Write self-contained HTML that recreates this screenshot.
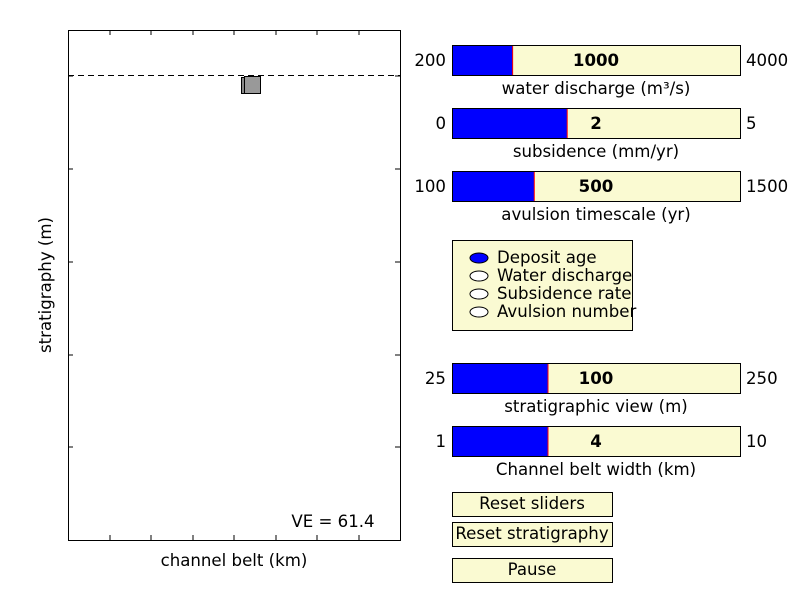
<!DOCTYPE html>
<html><head><meta charset="utf-8"><style>
body{margin:0;background:#fff;}
svg{display:block;font-family:"DejaVu Sans","Liberation Sans",sans-serif;}
</style></head><body>
<svg id="s" width="800" height="600" viewBox="0 0 800 600">
<rect x="0" y="0" width="800" height="600" fill="#fff"/>
<g>
<rect x="68.5" y="30.5" width="332" height="510" fill="#fff" stroke="#000"/>
<g id="ticks" stroke="#000"></g>
<line x1="68" y1="75.5" x2="400" y2="75.5" stroke="#000" stroke-dasharray="6,4"/>
<rect x="241.5" y="77.5" width="16" height="16" fill="#888" stroke="#000"/>
<rect x="244.5" y="76.5" width="16" height="17" fill="#999" stroke="#000"/>
<text x="333" y="527" font-size="16.6" text-anchor="middle">VE = 61.4</text>
<text x="234" y="566" font-size="16.6" text-anchor="middle">channel belt (km)</text>
<text transform="translate(51,285) rotate(-90)" font-size="16.6" text-anchor="middle">stratigraphy (m)</text>
</g>
<g id="sliders"></g>
<g font-size="16.6">
<rect x="452.5" y="240.5" width="180" height="90" fill="#fafad2" stroke="#000"/>
<ellipse cx="479" cy="258" rx="9" ry="5" fill="#00f" stroke="#000"/>
<ellipse cx="479" cy="276" rx="9" ry="5" fill="#fff" stroke="#000"/>
<ellipse cx="479" cy="294" rx="9" ry="5" fill="#fff" stroke="#000"/>
<ellipse cx="479" cy="312" rx="9" ry="5" fill="#fff" stroke="#000"/>
<text x="497" y="263">Deposit age</text>
<text x="497" y="281">Water discharge</text>
<text x="497" y="299">Subsidence rate</text>
<text x="497" y="317">Avulsion number</text>
</g>
<g><rect x="452.5" y="492.5" width="160" height="24" fill="#fafad2" stroke="#000"/><text x="532" y="509" font-size="16.6" text-anchor="middle">Reset sliders</text></g>
<g><rect x="452.5" y="522.5" width="160" height="24" fill="#fafad2" stroke="#000"/><text x="532" y="539" font-size="16.6" text-anchor="middle">Reset stratigraphy</text></g>
<g><rect x="452.5" y="558.5" width="160" height="24" fill="#fafad2" stroke="#000"/><text x="532" y="575" font-size="16.6" text-anchor="middle">Pause</text></g>
</svg>
<script>
const sliderNames=["water discharge (m³/s)","subsidence (mm/yr)","avulsion timescale (yr)","stratigraphic view (m)","Channel belt width (km)"];
const sliderMins=[200,0,100,25,1];
const sliderMaxs=[4000,5,1500,250,10];
const sliderValues=[1000,2,500,100,4];
const sliderTops=[45,108,171,363,426];
const NS="http://www.w3.org/2000/svg";
function mk(t,a,p){const e=document.createElementNS(NS,t);for(const k in a)e.setAttribute(k,a[k]);p.appendChild(e);return e;}
const tk=document.getElementById('ticks');
[110,151,193,234,276,317,359].forEach(x=>{mk('line',{x1:x,y1:30,x2:x,y2:35},tk);mk('line',{x1:x,y1:540,x2:x,y2:535},tk);});
[76,169,262,355,447].forEach(y=>{mk('line',{x1:68,y1:y,x2:73,y2:y},tk);mk('line',{x1:400,y1:y,x2:395,y2:y},tk);});
const sg=document.getElementById('sliders');
const X0=452,W=288;
sliderNames.forEach((n,i)=>{
 const g=mk('g',{},sg);
 
 
 const y=sliderTops[i];
 const fx=X0+W*(sliderValues[i]-sliderMins[i])/(sliderMaxs[i]-sliderMins[i]);
 mk('rect',{x:X0+.5,y:y+.5,width:W,height:30,fill:'#fafad2',stroke:'#000'},g);
 mk('rect',{x:X0+1,y:y+1,width:fx-X0-1,height:29,fill:'#00f'},g);
 mk('line',{x1:fx,y1:y+1,x2:fx,y2:y+30,stroke:'#f00'},g);
 let t=mk('text',{x:X0+W/2,y:y+21,'font-size':16.6,'font-weight':'bold','text-anchor':'middle'},g);t.textContent=sliderValues[i];
 t=mk('text',{x:X0-6,y:y+21,'font-size':16.6,'text-anchor':'end'},g);t.textContent=sliderMins[i];
 t=mk('text',{x:X0+W+6,y:y+21,'font-size':16.6},g);t.textContent=sliderMaxs[i];
 t=mk('text',{x:X0+W/2,y:y+49,'font-size':16.6,'text-anchor':'middle'},g);t.textContent=n;
});
</script>
</body></html>
